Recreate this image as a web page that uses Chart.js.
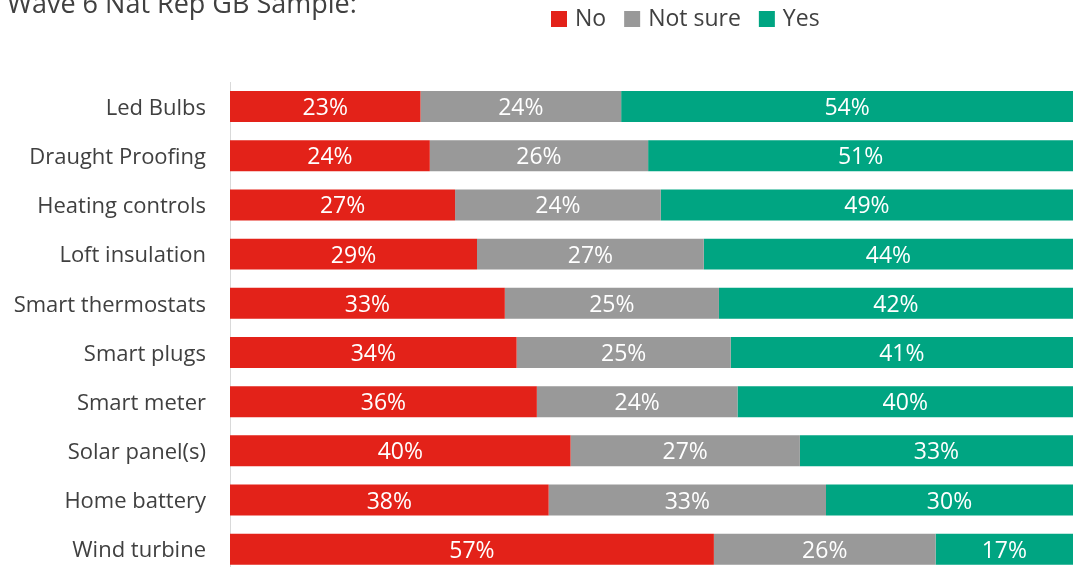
<!DOCTYPE html>
<html>
<head>
<meta charset="utf-8">
<script src="https://cdn.jsdelivr.net/npm/chart.js@4"></script>
<style>
  html, body { margin: 0; padding: 0; background: #fff; overflow: hidden; }
</style>
</head>
<body>
<canvas id="chart" width="1073" height="611"></canvas>
<script>
// values (share of respondents, %)
var categories = ['Led Bulbs', 'Draught Proofing', 'Heating controls', 'Loft insulation',
  'Smart thermostats', 'Smart plugs', 'Smart meter', 'Solar panel(s)', 'Home battery', 'Wind turbine'];
var no_values      = [22.6, 23.7, 26.7, 29.3, 32.6, 34.0, 36.4, 40.4, 37.8, 57.4];
var notsure_values = [23.8, 25.9, 24.4, 26.9, 25.4, 25.4, 23.8, 27.2, 32.9, 26.3];
var yes_values     = [53.6, 50.5, 48.9, 43.8, 42.0, 40.6, 39.8, 32.5, 29.5, 16.5];
var series_names = ['No', 'Not sure', 'Yes'];
var title_text = 'Wave 6 Nat Rep GB Sample:';

var FONT = '"Open Sans", "Segoe UI", sans-serif';
var TEXT = '#404040';

// data labels inside bars + title + legend drawn by hand
const overlay = {
  id: 'overlay',
  afterDatasetsDraw(chart) {
    const ctx = chart.ctx;
    const area = chart.chartArea;
    ctx.save();
    ctx.font = '23px ' + FONT;
    ctx.fillStyle = '#ffffff';
    ctx.textAlign = 'center';
    ctx.textBaseline = 'middle';
    chart.data.datasets.forEach(function(ds, i){
      const meta = chart.getDatasetMeta(i);
      meta.data.forEach(function(bar, j){
        const x1 = Math.max(area.left, Math.min(bar.base, bar.x));
        const x2 = Math.min(area.right, Math.max(bar.base, bar.x));
        ctx.fillText(Math.round(ds.data[j]) + '%', (x1 + x2) / 2, bar.y + 2);
      });
    });
    ctx.restore();
  },
  afterDraw(chart) {
    const ctx = chart.ctx;
    ctx.save();
    // title (cut off at the top like the original)
    ctx.font = '27px ' + FONT;
    ctx.fillStyle = TEXT;
    ctx.textAlign = 'left';
    ctx.textBaseline = 'alphabetic';
    ctx.fillText(title_text, 7, 13);

    // legend
    ctx.font = '23px ' + FONT;
    ctx.textBaseline = 'middle';
    let x = 551;
    chart.data.datasets.forEach(function(ds){
      ctx.fillStyle = ds.backgroundColor;
      ctx.fillRect(x, 11, 16, 16);
      x += 24;
      ctx.fillStyle = TEXT;
      ctx.fillText(ds.label, x, 19);
      x += ctx.measureText(ds.label).width + 18;
    });
    ctx.restore();
  }
};

const ctx = document.getElementById('chart').getContext('2d');
const myChart = new Chart(ctx, {
  type: 'bar',
  data: {
    labels: categories,
    datasets: [{
      label: series_names[0],
      data: no_values,
      backgroundColor: '#E32219',
    },{
      label: series_names[1],
      data: notsure_values,
      backgroundColor: '#999999',
    },{
      label: series_names[2],
      data: yes_values,
      backgroundColor: '#00A582',
    }]
  },
  options: {
    indexAxis: 'y',
    responsive: false,
    animation: false,
    layout: { padding: { top: 82, right: 0, bottom: 0, left: 0 } },
    datasets: {
      bar: { barPercentage: 0.63, categoryPercentage: 1, borderWidth: 0 }
    },
    plugins: {
      legend: { display: false },
      tooltip: { enabled: false }
    },
    scales: {
      x: {
        stacked: true,
        min: 0,
        max: 100,
        display: false
      },
      y: {
        stacked: true,
        grid: { display: false, drawTicks: false },
        border: { display: true, color: '#d9d9d9', width: 1 },
        ticks: {
          color: TEXT,
          font: { family: FONT, size: 22 },
          padding: 24,
          labelOffset: 2,
          autoSkip: false
        },
        afterFit: function(scale){ scale.width = 230; }
      }
    }
  },
  plugins: [overlay]
});
</script>
</body>
</html>
